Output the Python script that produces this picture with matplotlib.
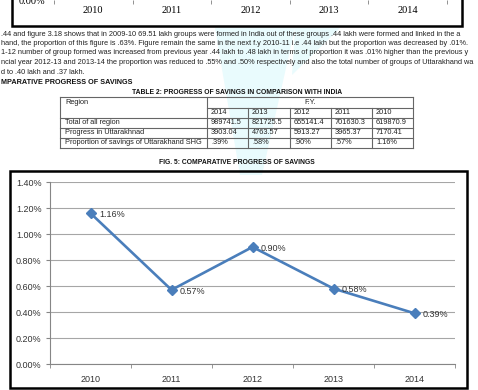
import matplotlib
matplotlib.use("Agg")
import matplotlib.pyplot as plt
from matplotlib.patches import Rectangle, Polygon
from matplotlib.ticker import FuncFormatter

# data
years = ['2010', '2011', '2012', '2013', '2014']
savings_share = [1.16, 0.57, 0.90, 0.58, 0.39]   # percent, Uttarakhand SHG share
top_years = ['2010', '2011', '2012', '2013', '2014']

body_lines = [
    ".44 and figure 3.18 shows that in 2009-10 69.51 lakh groups were formed in India out of these groups .44 lakh were formed and linked in the a",
    "hand, the proportion of this figure is .63%. Figure remain the same in the next f.y 2010-11 i.e .44 lakh but the proportion was decreased by .01%.",
    "1-12 number of group formed was increased from previous year .44 lakh to .48 lakh in terms of proportion it was .01% higher than the previous y",
    "ncial year 2012-13 and 2013-14 the proportion was reduced to .55% and .50% respectively and also the total number of groups of Uttarakhand wa",
    "d to .40 lakh and .37 lakh.",
]
section_title = "MPARATIVE PROGRESS OF SAVINGS"
table_title = "TABLE 2: PROGRESS OF SAVINGS IN COMPARISON WITH INDIA"
fig_title = "FIG. 5: COMPARATIVE PROGRESS OF SAVINGS"

table_years = ['2014', '2013', '2012', '2011', '2010']
table_rows = ['Total of all region', 'Progress in Uttarakhnad', 'Proportion of savings of Uttarakhand SHG']
total_all = ['989741.5', '821725.5', '655141.4', '701630.3', '619870.9']
progress_uk = ['3903.04', '4763.57', '5913.27', '3965.37', '7170.41']
proportion_uk = ['.39%', '.58%', '.90%', '.57%', '1.16%']

W, H = 478, 390
fig = plt.figure(figsize=(W / 100, H / 100), dpi=100)
plt.rcParams['font.family'] = ['Liberation Sans', 'DejaVu Sans']

# page layer in pixel coords
page = fig.add_axes([0, 0, 1, 1])
page.set_xlim(0, W)
page.set_ylim(H, 0)
page.axis('off')

# faint watermark
wm = '#e9fbfd'
page.add_patch(Polygon([(215, 28), (295, 28), (262, 175), (240, 175)], closed=True,
                       facecolor=wm, edgecolor='none', zorder=0))
page.add_patch(Polygon([(295, 28), (340, 28), (292, 75)], closed=True,
                       facecolor=wm, edgecolor='none', zorder=0))

# bottom of the previous chart
page.add_patch(Rectangle((12, -10), 450, 36, fill=False, edgecolor='black', lw=1.8, zorder=3))
top_ax = fig.add_axes([54 / W, 1.0, 393 / W, 30 / H])
top_ax.set_xlim(-0.5, 4.5)
top_ax.set_ylim(0, 0.014)
top_ax.set_xticks(range(len(top_years)))
top_ax.set_xticklabels(top_years, family='Liberation Serif', fontsize=7.5)
top_ax.set_xticks([i - 0.5 for i in range(len(top_years) + 1)], minor=True)
top_ax.tick_params(axis='x', which='major', length=0, pad=4.5)
top_ax.tick_params(axis='x', which='minor', length=3, color='#808080')
top_ax.set_yticks([0])
top_ax.set_yticklabels(['0.00%'], family='Liberation Serif', fontsize=7.5)
top_ax.tick_params(axis='y', length=0, pad=6)
for s in top_ax.spines.values():
    s.set_visible(False)

# body text
body_y = [34, 43.5, 53, 63, 72.5]
for y, line in zip(body_y, body_lines):
    page.text(1, y, line, fontsize=5.3, va='center', ha='left', color='#222222')
page.text(1, 82, section_title, fontsize=5.2, fontweight='bold', va='center', ha='left', color='#111111')
page.text(237, 92, table_title, fontsize=4.9, fontweight='bold', va='center', ha='center', color='#111111')

# table
lc = '#666666'
tl, tr = 60, 413
col_x = [207, 248, 290, 331, 372, 413]
row_y = [97, 107.5, 118, 128, 138, 148]
page.plot([tl, tr], [row_y[0], row_y[0]], color=lc, lw=0.8)
page.plot([col_x[0], tr], [row_y[1], row_y[1]], color=lc, lw=0.8)
for y in row_y[2:]:
    page.plot([tl, tr], [y, y], color=lc, lw=0.8)
page.plot([tl, tl], [row_y[0], row_y[-1]], color=lc, lw=0.8)
page.plot([tr, tr], [row_y[0], row_y[-1]], color=lc, lw=0.8)
page.plot([col_x[0], col_x[0]], [row_y[0], row_y[-1]], color=lc, lw=0.8)
for x in col_x[1:-1]:
    page.plot([x, x], [row_y[1], row_y[-1]], color=lc, lw=0.8)

tfs = 5.35
page.text(tl + 5, (row_y[0] + row_y[1]) / 2, 'Region', fontsize=tfs, va='center', color='#222222')
page.text((col_x[0] + tr) / 2, (row_y[0] + row_y[1]) / 2, 'F.Y.', fontsize=tfs, va='center', ha='center', color='#222222')
for i, yr in enumerate(table_years):
    page.text(col_x[i] + 4, (row_y[1] + row_y[2]) / 2, yr, fontsize=tfs, va='center', color='#222222')
for r, (name, vals) in enumerate(zip(table_rows, [total_all, progress_uk, proportion_uk])):
    yc = (row_y[r + 2] + row_y[r + 3]) / 2
    page.text(tl + 5, yc, name, fontsize=tfs, va='center', color='#222222')
    for i, v in enumerate(vals):
        page.text(col_x[i] + 4, yc, v, fontsize=tfs, va='center', color='#222222')

# figure title + chart border
page.text(237, 163, fig_title, fontsize=4.9, fontweight='bold', va='center', ha='center', color='#111111')
page.add_patch(Rectangle((10, 171), 457, 217, fill=False, edgecolor='black', lw=1.8, zorder=3))

# main chart
ax = fig.add_axes([50 / W, (H - 364) / H, 405 / W, 182 / H])
x = list(range(len(years)))
vals = [v / 100 for v in savings_share]
ax.plot(x, vals, color='#4A7EBB', lw=1.9, marker='D', markersize=5, zorder=3)
for xi, v in zip(x, savings_share):
    ax.annotate('%.2f%%' % v, (xi, v / 100), xytext=(6, -1), textcoords='offset points',
                fontsize=6.5, va='center', ha='left', color='#333333')
ax.set_xlim(-0.5, 4.5)
ax.set_ylim(0, 0.014)
ax.set_yticks([i * 0.002 for i in range(8)])
ax.yaxis.set_major_formatter(FuncFormatter(lambda v, p: '%.2f%%' % (v * 100)))
ax.grid(axis='y', color='#A6A6A6', lw=0.8)
ax.set_axisbelow(True)
ax.set_xticks(x)
ax.set_xticklabels(years)
ax.set_xticks([i - 0.5 for i in range(len(years) + 1)], minor=True)
ax.tick_params(axis='x', which='major', length=0, pad=8, labelsize=6.5, labelcolor='#333333')
ax.tick_params(axis='x', which='minor', length=3, color='#868686')
ax.tick_params(axis='y', length=3, color='#868686', pad=3, labelsize=6.5, labelcolor='#333333')
for s in ['top', 'right']:
    ax.spines[s].set_visible(False)
for s in ['left', 'bottom']:
    ax.spines[s].set_color('#868686')
    ax.spines[s].set_linewidth(0.8)

fig.savefig('out.png', dpi=100)
